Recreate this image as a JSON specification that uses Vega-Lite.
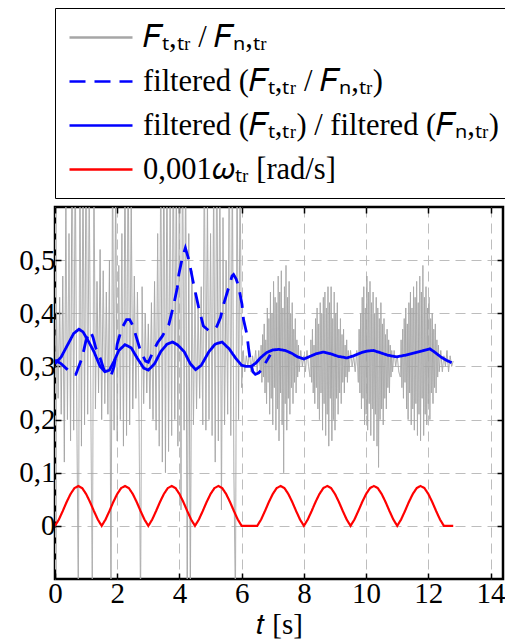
{
  "$schema": "https://vega.github.io/schema/vega-lite/v6.json",
  "width": 448,
  "height": 372,
  "autosize": {"type": "none"},
  "padding": {"left": 55, "top": 207, "right": 2, "bottom": 63},
  "background": "white",
  "config": {
    "view": {"stroke": "black", "strokeWidth": 2.5},
    "font": "Liberation Serif",
    "axis": {"labelFont": "Liberation Serif", "titleFont": "Liberation Serif"},
    "legend": {"labelFont": "Liberation Serif"}
  },
  "data": {"values": [
      {"s":"a","t":0,"v":0.31},{"s":"a","t":0.05,"v":0.4},{"s":"a","t":0.1,"v":0.24},{"s":"a","t":0.15,"v":0.43},{"s":"a","t":0.2,"v":0.21},{"s":"a","t":0.25,"v":0.47},{"s":"a","t":0.3,"v":0.12},{"s":"a","t":0.35,"v":0.62},{"s":"a","t":0.4,"v":0.2},{"s":"a","t":0.45,"v":0.55},
      {"s":"a","t":0.5,"v":0.16},{"s":"a","t":0.55,"v":0.75},{"s":"a","t":0.6,"v":0.18},{"s":"a","t":0.65,"v":0.7},{"s":"a","t":0.7,"v":0.22},{"s":"a","t":0.75,"v":-0.15},{"s":"a","t":0.8,"v":0.72},{"s":"a","t":0.85,"v":0.15},{"s":"a","t":0.9,"v":0.68},{"s":"a","t":0.95,"v":0.19},
      {"s":"a","t":1,"v":0.75},{"s":"a","t":1.05,"v":0.21},{"s":"a","t":1.1,"v":0.64},{"s":"a","t":1.15,"v":0.24},{"s":"a","t":1.2,"v":-0.15},{"s":"a","t":1.25,"v":0.7},{"s":"a","t":1.3,"v":0.22},{"s":"a","t":1.35,"v":0.46},{"s":"a","t":1.4,"v":0.25},{"s":"a","t":1.45,"v":0.52},
      {"s":"a","t":1.5,"v":0.2},{"s":"a","t":1.55,"v":0.48},{"s":"a","t":1.6,"v":0.23},{"s":"a","t":1.65,"v":0.44},{"s":"a","t":1.7,"v":0.21},{"s":"a","t":1.75,"v":0.5},{"s":"a","t":1.8,"v":-0.15},{"s":"a","t":1.85,"v":0.72},{"s":"a","t":1.9,"v":0.18},{"s":"a","t":1.95,"v":0.66},
      {"s":"a","t":2,"v":0.16},{"s":"a","t":2.05,"v":0.49},{"s":"a","t":2.1,"v":0.2},{"s":"a","t":2.15,"v":0.55},{"s":"a","t":2.2,"v":0.15},{"s":"a","t":2.25,"v":0.7},{"s":"a","t":2.3,"v":0.17},{"s":"a","t":2.35,"v":0.74},{"s":"a","t":2.4,"v":0.19},{"s":"a","t":2.45,"v":0.62},
      {"s":"a","t":2.5,"v":0.22},{"s":"a","t":2.55,"v":0.47},{"s":"a","t":2.6,"v":0.24},{"s":"a","t":2.65,"v":0.44},{"s":"a","t":2.7,"v":0.21},{"s":"a","t":2.75,"v":-0.15},{"s":"a","t":2.8,"v":0.45},{"s":"a","t":2.85,"v":0.23},{"s":"a","t":2.9,"v":0.4},{"s":"a","t":2.95,"v":0.25},
      {"s":"a","t":3,"v":0.38},{"s":"a","t":3.05,"v":0.22},{"s":"a","t":3.1,"v":0.42},{"s":"a","t":3.15,"v":0.2},{"s":"a","t":3.2,"v":0.46},{"s":"a","t":3.25,"v":0.18},{"s":"a","t":3.3,"v":0.55},{"s":"a","t":3.35,"v":0.15},{"s":"a","t":3.4,"v":0.7},{"s":"a","t":3.45,"v":0.12},
      {"s":"a","t":3.5,"v":0.75},{"s":"a","t":3.55,"v":0.1},{"s":"a","t":3.6,"v":0.72},{"s":"a","t":3.65,"v":0.14},{"s":"a","t":3.7,"v":0.68},{"s":"a","t":3.75,"v":0.17},{"s":"a","t":3.8,"v":0.75},{"s":"a","t":3.85,"v":0.2},{"s":"a","t":3.9,"v":0.66},{"s":"a","t":3.95,"v":0.15},
      {"s":"a","t":4,"v":0.72},{"s":"a","t":4.05,"v":0.03},{"s":"a","t":4.1,"v":0.74},{"s":"a","t":4.15,"v":0.18},{"s":"a","t":4.2,"v":0.7},{"s":"a","t":4.25,"v":-0.15},{"s":"a","t":4.3,"v":0.55},{"s":"a","t":4.35,"v":-0.15},{"s":"a","t":4.4,"v":0.48},{"s":"a","t":4.45,"v":0.19},
      {"s":"a","t":4.5,"v":0.44},{"s":"a","t":4.55,"v":0.22},{"s":"a","t":4.6,"v":0.41},{"s":"a","t":4.65,"v":0.24},{"s":"a","t":4.7,"v":0.45},{"s":"a","t":4.75,"v":0.19},{"s":"a","t":4.8,"v":0.7},{"s":"a","t":4.85,"v":0.18},{"s":"a","t":4.9,"v":0.62},{"s":"a","t":4.95,"v":0.2},
      {"s":"a","t":5,"v":0.55},{"s":"a","t":5.05,"v":0.17},{"s":"a","t":5.1,"v":0.66},{"s":"a","t":5.15,"v":0.12},{"s":"a","t":5.2,"v":0.74},{"s":"a","t":5.25,"v":0.16},{"s":"a","t":5.3,"v":0.71},{"s":"a","t":5.35,"v":0.03},{"s":"a","t":5.4,"v":0.58},{"s":"a","t":5.45,"v":0.19},
      {"s":"a","t":5.5,"v":0.5},{"s":"a","t":5.55,"v":0.21},{"s":"a","t":5.6,"v":0.73},{"s":"a","t":5.65,"v":0.17},{"s":"a","t":5.7,"v":0.69},{"s":"a","t":5.75,"v":0.1},{"s":"a","t":5.8,"v":-0.15},{"s":"a","t":5.85,"v":0.72},{"s":"a","t":5.9,"v":0.2},{"s":"a","t":5.95,"v":0.66},
      {"s":"a","t":6,"v":0.26},{"s":"a","t":6.05,"v":0.33},{"s":"a","t":6.1,"v":0.29},{"s":"a","t":6.15,"v":0.32},{"s":"a","t":6.2,"v":0.3},{"s":"a","t":6.25,"v":0.33},{"s":"a","t":6.3,"v":0.29},{"s":"a","t":6.35,"v":0.32},{"s":"a","t":6.4,"v":0.3},{"s":"a","t":6.45,"v":0.33},
      {"s":"a","t":6.5,"v":0.29},{"s":"a","t":6.55,"v":0.33},
      {"s":"a","t":6.6,"v":0.29},{"s":"a","t":6.625,"v":0.34},{"s":"a","t":6.65,"v":0.27},{"s":"a","t":6.675,"v":0.36},{"s":"a","t":6.7,"v":0.28},{"s":"a","t":6.725,"v":0.38},{"s":"a","t":6.75,"v":0.25},{"s":"a","t":6.775,"v":0.35},{"s":"a","t":6.8,"v":0.23},{"s":"a","t":6.825,"v":0.41},
      {"s":"a","t":6.85,"v":0.27},{"s":"a","t":6.875,"v":0.39},{"s":"a","t":6.9,"v":0.21},{"s":"a","t":6.925,"v":0.44},{"s":"a","t":6.95,"v":0.24},{"s":"a","t":6.975,"v":0.4},{"s":"a","t":7,"v":0.19},{"s":"a","t":7.025,"v":0.46},{"s":"a","t":7.05,"v":0.26},{"s":"a","t":7.075,"v":0.43},
      {"s":"a","t":7.1,"v":0.18},{"s":"a","t":7.125,"v":0.42},{"s":"a","t":7.15,"v":0.22},{"s":"a","t":7.175,"v":0.47},{"s":"a","t":7.2,"v":0.16},{"s":"a","t":7.225,"v":0.44},{"s":"a","t":7.25,"v":0.25},{"s":"a","t":7.275,"v":0.48},{"s":"a","t":7.3,"v":0.19},{"s":"a","t":7.325,"v":0.41},
      {"s":"a","t":7.35,"v":0.1},{"s":"a","t":7.375,"v":0.45},{"s":"a","t":7.4,"v":0.23},{"s":"a","t":7.425,"v":0.49},{"s":"a","t":7.45,"v":0.18},{"s":"a","t":7.475,"v":0.43},{"s":"a","t":7.5,"v":0.24},{"s":"a","t":7.525,"v":0.46},{"s":"a","t":7.55,"v":0.21},{"s":"a","t":7.575,"v":0.4},
      {"s":"a","t":7.6,"v":0.26},{"s":"a","t":7.625,"v":0.42},{"s":"a","t":7.65,"v":0.23},{"s":"a","t":7.675,"v":0.37},{"s":"a","t":7.7,"v":0.27},{"s":"a","t":7.725,"v":0.39},{"s":"a","t":7.75,"v":0.25},{"s":"a","t":7.775,"v":0.35},{"s":"a","t":7.8,"v":0.28},{"s":"a","t":7.825,"v":0.34},
      {"s":"a","t":7.85,"v":0.29},{"s":"a","t":7.9,"v":0.33},{"s":"a","t":7.95,"v":0.3},{"s":"a","t":8,"v":0.32},{"s":"a","t":8.05,"v":0.29},{"s":"a","t":8.1,"v":0.33},{"s":"a","t":8.15,"v":0.3},
      {"s":"a","t":8.2,"v":0.28},{"s":"a","t":8.225,"v":0.35},{"s":"a","t":8.25,"v":0.27},{"s":"a","t":8.275,"v":0.37},{"s":"a","t":8.3,"v":0.25},{"s":"a","t":8.325,"v":0.34},{"s":"a","t":8.35,"v":0.23},{"s":"a","t":8.375,"v":0.39},{"s":"a","t":8.4,"v":0.26},{"s":"a","t":8.425,"v":0.41},
      {"s":"a","t":8.45,"v":0.22},{"s":"a","t":8.475,"v":0.38},{"s":"a","t":8.5,"v":0.2},{"s":"a","t":8.525,"v":0.42},{"s":"a","t":8.55,"v":0.25},{"s":"a","t":8.575,"v":0.4},{"s":"a","t":8.6,"v":0.18},{"s":"a","t":8.625,"v":0.43},{"s":"a","t":8.65,"v":0.23},{"s":"a","t":8.675,"v":0.44},
      {"s":"a","t":8.7,"v":0.17},{"s":"a","t":8.725,"v":0.41},{"s":"a","t":8.75,"v":0.21},{"s":"a","t":8.775,"v":0.45},{"s":"a","t":8.8,"v":0.15},{"s":"a","t":8.825,"v":0.42},{"s":"a","t":8.85,"v":0.24},{"s":"a","t":8.875,"v":0.45},{"s":"a","t":8.9,"v":0.16},{"s":"a","t":8.925,"v":0.39},
      {"s":"a","t":8.95,"v":0.2},{"s":"a","t":8.975,"v":0.44},{"s":"a","t":9,"v":0.18},{"s":"a","t":9.025,"v":0.4},{"s":"a","t":9.05,"v":0.24},{"s":"a","t":9.075,"v":0.42},{"s":"a","t":9.1,"v":0.21},{"s":"a","t":9.125,"v":0.37},{"s":"a","t":9.15,"v":0.25},{"s":"a","t":9.175,"v":0.39},
      {"s":"a","t":9.2,"v":0.23},{"s":"a","t":9.225,"v":0.36},{"s":"a","t":9.25,"v":0.27},{"s":"a","t":9.275,"v":0.37},{"s":"a","t":9.3,"v":0.25},{"s":"a","t":9.325,"v":0.34},{"s":"a","t":9.35,"v":0.28},{"s":"a","t":9.375,"v":0.35},{"s":"a","t":9.4,"v":0.27},{"s":"a","t":9.425,"v":0.33},
      {"s":"a","t":9.45,"v":0.29},{"s":"a","t":9.5,"v":0.33},{"s":"a","t":9.55,"v":0.3},{"s":"a","t":9.6,"v":0.32},{"s":"a","t":9.65,"v":0.29},{"s":"a","t":9.7,"v":0.33},
      {"s":"a","t":9.75,"v":0.27},{"s":"a","t":9.775,"v":0.37},{"s":"a","t":9.8,"v":0.25},{"s":"a","t":9.825,"v":0.4},{"s":"a","t":9.85,"v":0.22},{"s":"a","t":9.875,"v":0.43},{"s":"a","t":9.9,"v":0.24},{"s":"a","t":9.925,"v":0.45},{"s":"a","t":9.95,"v":0.19},{"s":"a","t":9.975,"v":0.41},
      {"s":"a","t":10,"v":0.21},{"s":"a","t":10.025,"v":0.47},{"s":"a","t":10.05,"v":0.18},{"s":"a","t":10.075,"v":0.44},{"s":"a","t":10.1,"v":0.23},{"s":"a","t":10.125,"v":0.46},{"s":"a","t":10.15,"v":0.17},{"s":"a","t":10.175,"v":0.42},{"s":"a","t":10.2,"v":0.22},{"s":"a","t":10.225,"v":0.44},
      {"s":"a","t":10.25,"v":0.16},{"s":"a","t":10.275,"v":0.4},{"s":"a","t":10.3,"v":0.21},{"s":"a","t":10.325,"v":0.43},{"s":"a","t":10.35,"v":0.15},{"s":"a","t":10.375,"v":0.41},{"s":"a","t":10.4,"v":0.11},{"s":"a","t":10.425,"v":0.39},{"s":"a","t":10.45,"v":0.2},{"s":"a","t":10.475,"v":0.42},
      {"s":"a","t":10.5,"v":0.22},{"s":"a","t":10.525,"v":0.38},{"s":"a","t":10.55,"v":0.19},{"s":"a","t":10.575,"v":0.39},{"s":"a","t":10.6,"v":0.24},{"s":"a","t":10.625,"v":0.36},{"s":"a","t":10.65,"v":0.22},{"s":"a","t":10.675,"v":0.37},{"s":"a","t":10.7,"v":0.26},{"s":"a","t":10.725,"v":0.35},
      {"s":"a","t":10.75,"v":0.25},{"s":"a","t":10.775,"v":0.34},{"s":"a","t":10.8,"v":0.28},{"s":"a","t":10.825,"v":0.33},{"s":"a","t":10.85,"v":0.29},{"s":"a","t":10.9,"v":0.33},{"s":"a","t":10.95,"v":0.3},{"s":"a","t":11,"v":0.32},{"s":"a","t":11.05,"v":0.29},
      {"s":"a","t":11.1,"v":0.28},{"s":"a","t":11.125,"v":0.35},{"s":"a","t":11.15,"v":0.26},{"s":"a","t":11.175,"v":0.37},{"s":"a","t":11.2,"v":0.24},{"s":"a","t":11.225,"v":0.39},{"s":"a","t":11.25,"v":0.27},{"s":"a","t":11.275,"v":0.41},{"s":"a","t":11.3,"v":0.22},{"s":"a","t":11.325,"v":0.38},
      {"s":"a","t":11.35,"v":0.2},{"s":"a","t":11.375,"v":0.42},{"s":"a","t":11.4,"v":0.25},{"s":"a","t":11.425,"v":0.44},{"s":"a","t":11.45,"v":0.19},{"s":"a","t":11.475,"v":0.41},{"s":"a","t":11.5,"v":0.22},{"s":"a","t":11.525,"v":0.45},{"s":"a","t":11.55,"v":0.18},{"s":"a","t":11.575,"v":0.43},
      {"s":"a","t":11.6,"v":0.23},{"s":"a","t":11.625,"v":0.46},{"s":"a","t":11.65,"v":0.17},{"s":"a","t":11.675,"v":0.42},{"s":"a","t":11.7,"v":0.21},{"s":"a","t":11.725,"v":0.47},{"s":"a","t":11.75,"v":0.16},{"s":"a","t":11.775,"v":0.44},{"s":"a","t":11.8,"v":0.24},{"s":"a","t":11.825,"v":0.49},
      {"s":"a","t":11.85,"v":0.17},{"s":"a","t":11.875,"v":0.43},{"s":"a","t":11.9,"v":0.21},{"s":"a","t":11.925,"v":0.45},{"s":"a","t":11.95,"v":0.19},{"s":"a","t":11.975,"v":0.41},{"s":"a","t":12,"v":0.23},{"s":"a","t":12.025,"v":0.43},{"s":"a","t":12.05,"v":0.2},{"s":"a","t":12.075,"v":0.39},
      {"s":"a","t":12.1,"v":0.25},{"s":"a","t":12.125,"v":0.4},{"s":"a","t":12.15,"v":0.23},{"s":"a","t":12.175,"v":0.37},{"s":"a","t":12.2,"v":0.26},{"s":"a","t":12.225,"v":0.38},{"s":"a","t":12.25,"v":0.25},{"s":"a","t":12.275,"v":0.35},{"s":"a","t":12.3,"v":0.28},{"s":"a","t":12.325,"v":0.34},
      {"s":"a","t":12.35,"v":0.29},{"s":"a","t":12.4,"v":0.33},{"s":"a","t":12.45,"v":0.29},{"s":"a","t":12.5,"v":0.32},{"s":"a","t":12.55,"v":0.3},{"s":"a","t":12.6,"v":0.33},{"s":"a","t":12.65,"v":0.29},{"s":"a","t":12.7,"v":0.32},{"s":"a","t":12.75,"v":0.3},{"s":"a","t":12.8,"v":0.31},
      {"s":"d","t":0,"v":0},{"s":"d","t":0.125,"v":0.012},{"s":"d","t":0.25,"v":0.028},{"s":"d","t":0.375,"v":0.045},{"s":"d","t":0.5,"v":0.06},{"s":"d","t":0.625,"v":0.071},{"s":"d","t":0.75,"v":0.075},{"s":"d","t":0.875,"v":0.071},{"s":"d","t":1,"v":0.06},{"s":"d","t":1.125,"v":0.045},{"s":"d","t":1.25,"v":0.028},{"s":"d","t":1.375,"v":0.012},{"s":"d","t":1.5,"v":0},
      {"s":"d","t":1.625,"v":0.012},{"s":"d","t":1.75,"v":0.028},{"s":"d","t":1.875,"v":0.045},{"s":"d","t":2,"v":0.06},{"s":"d","t":2.125,"v":0.071},{"s":"d","t":2.25,"v":0.075},{"s":"d","t":2.375,"v":0.071},{"s":"d","t":2.5,"v":0.06},{"s":"d","t":2.625,"v":0.045},{"s":"d","t":2.75,"v":0.028},{"s":"d","t":2.875,"v":0.012},{"s":"d","t":3,"v":0},
      {"s":"d","t":3.125,"v":0.012},{"s":"d","t":3.25,"v":0.028},{"s":"d","t":3.375,"v":0.045},{"s":"d","t":3.5,"v":0.06},{"s":"d","t":3.625,"v":0.071},{"s":"d","t":3.75,"v":0.075},{"s":"d","t":3.875,"v":0.071},{"s":"d","t":4,"v":0.06},{"s":"d","t":4.125,"v":0.045},{"s":"d","t":4.25,"v":0.028},{"s":"d","t":4.375,"v":0.012},{"s":"d","t":4.5,"v":0},
      {"s":"d","t":4.625,"v":0.012},{"s":"d","t":4.75,"v":0.028},{"s":"d","t":4.875,"v":0.045},{"s":"d","t":5,"v":0.06},{"s":"d","t":5.125,"v":0.071},{"s":"d","t":5.25,"v":0.075},{"s":"d","t":5.375,"v":0.071},{"s":"d","t":5.5,"v":0.06},{"s":"d","t":5.625,"v":0.045},{"s":"d","t":5.75,"v":0.028},{"s":"d","t":5.875,"v":0.012},{"s":"d","t":6,"v":0},
      {"s":"d","t":6.5,"v":0},
      {"s":"d","t":6.625,"v":0.012},{"s":"d","t":6.75,"v":0.028},{"s":"d","t":6.875,"v":0.045},{"s":"d","t":7,"v":0.06},{"s":"d","t":7.125,"v":0.071},{"s":"d","t":7.25,"v":0.075},{"s":"d","t":7.375,"v":0.071},{"s":"d","t":7.5,"v":0.06},{"s":"d","t":7.625,"v":0.045},{"s":"d","t":7.75,"v":0.028},{"s":"d","t":7.875,"v":0.012},{"s":"d","t":8,"v":0},
      {"s":"d","t":8.125,"v":0.012},{"s":"d","t":8.25,"v":0.028},{"s":"d","t":8.375,"v":0.045},{"s":"d","t":8.5,"v":0.06},{"s":"d","t":8.625,"v":0.071},{"s":"d","t":8.75,"v":0.075},{"s":"d","t":8.875,"v":0.071},{"s":"d","t":9,"v":0.06},{"s":"d","t":9.125,"v":0.045},{"s":"d","t":9.25,"v":0.028},{"s":"d","t":9.375,"v":0.012},{"s":"d","t":9.5,"v":0},
      {"s":"d","t":9.625,"v":0.012},{"s":"d","t":9.75,"v":0.028},{"s":"d","t":9.875,"v":0.045},{"s":"d","t":10,"v":0.06},{"s":"d","t":10.125,"v":0.071},{"s":"d","t":10.25,"v":0.075},{"s":"d","t":10.375,"v":0.071},{"s":"d","t":10.5,"v":0.06},{"s":"d","t":10.625,"v":0.045},{"s":"d","t":10.75,"v":0.028},{"s":"d","t":10.875,"v":0.012},{"s":"d","t":11,"v":0},
      {"s":"d","t":11.125,"v":0.012},{"s":"d","t":11.25,"v":0.028},{"s":"d","t":11.375,"v":0.045},{"s":"d","t":11.5,"v":0.06},{"s":"d","t":11.625,"v":0.071},{"s":"d","t":11.75,"v":0.075},{"s":"d","t":11.875,"v":0.071},{"s":"d","t":12,"v":0.06},{"s":"d","t":12.125,"v":0.045},{"s":"d","t":12.25,"v":0.028},{"s":"d","t":12.375,"v":0.012},{"s":"d","t":12.5,"v":0},
      {"s":"d","t":12.8,"v":0},
      {"s":"b","t":0,"v":0.312},{"s":"b","t":0.2,"v":0.305},{"s":"b","t":0.4,"v":0.294},{"s":"b","t":0.55,"v":0.285},{"s":"b","t":0.67,"v":0.285},{"s":"b","t":0.87,"v":0.316},{"s":"b","t":0.99,"v":0.347},{"s":"b","t":1.08,"v":0.362},{"s":"b","t":1.14,"v":0.366},{"s":"b","t":1.22,"v":0.355},
      {"s":"b","t":1.31,"v":0.335},{"s":"b","t":1.47,"v":0.313},{"s":"b","t":1.57,"v":0.294},{"s":"b","t":1.68,"v":0.284},{"s":"b","t":1.79,"v":0.281},{"s":"b","t":1.9,"v":0.3},{"s":"b","t":2,"v":0.342},{"s":"b","t":2.15,"v":0.372},{"s":"b","t":2.3,"v":0.388},{"s":"b","t":2.4,"v":0.388},
      {"s":"b","t":2.5,"v":0.377},{"s":"b","t":2.59,"v":0.36},{"s":"b","t":2.75,"v":0.329},{"s":"b","t":2.91,"v":0.31},{"s":"b","t":3,"v":0.308},{"s":"b","t":3.17,"v":0.33},{"s":"b","t":3.3,"v":0.345},{"s":"b","t":3.45,"v":0.357},{"s":"b","t":3.66,"v":0.379},{"s":"b","t":3.82,"v":0.417},
      {"s":"b","t":3.93,"v":0.448},{"s":"b","t":3.98,"v":0.473},{"s":"b","t":4.09,"v":0.504},{"s":"b","t":4.19,"v":0.523},{"s":"b","t":4.3,"v":0.501},{"s":"b","t":4.43,"v":0.462},{"s":"b","t":4.61,"v":0.413},{"s":"b","t":4.77,"v":0.376},{"s":"b","t":4.93,"v":0.368},{"s":"b","t":5.09,"v":0.368},
      {"s":"b","t":5.2,"v":0.375},{"s":"b","t":5.32,"v":0.392},{"s":"b","t":5.42,"v":0.417},{"s":"b","t":5.58,"v":0.448},{"s":"b","t":5.69,"v":0.47},{"s":"b","t":5.74,"v":0.473},{"s":"b","t":5.82,"v":0.465},{"s":"b","t":5.9,"v":0.451},{"s":"b","t":6.01,"v":0.417},{"s":"b","t":6.06,"v":0.388},
      {"s":"b","t":6.17,"v":0.36},{"s":"b","t":6.22,"v":0.335},{"s":"b","t":6.28,"v":0.31},{"s":"b","t":6.36,"v":0.29},{"s":"b","t":6.44,"v":0.285},{"s":"b","t":6.55,"v":0.288},{"s":"b","t":6.65,"v":0.294},{"s":"b","t":6.75,"v":0.305},{"s":"b","t":6.92,"v":0.322},
      {"s":"c","t":0,"v":0.305},{"s":"c","t":0.2,"v":0.318},{"s":"c","t":0.4,"v":0.34},{"s":"c","t":0.6,"v":0.362},{"s":"c","t":0.77,"v":0.37},{"s":"c","t":0.9,"v":0.365},{"s":"c","t":1.05,"v":0.35},{"s":"c","t":1.25,"v":0.328},{"s":"c","t":1.45,"v":0.3},{"s":"c","t":1.6,"v":0.29},
      {"s":"c","t":1.75,"v":0.293},{"s":"c","t":1.9,"v":0.31},{"s":"c","t":2.05,"v":0.33},{"s":"c","t":2.25,"v":0.341},{"s":"c","t":2.45,"v":0.335},{"s":"c","t":2.65,"v":0.315},{"s":"c","t":2.85,"v":0.297},{"s":"c","t":3,"v":0.293},{"s":"c","t":3.2,"v":0.305},{"s":"c","t":3.4,"v":0.328},
      {"s":"c","t":3.6,"v":0.342},{"s":"c","t":3.78,"v":0.346},{"s":"c","t":3.95,"v":0.34},{"s":"c","t":4.15,"v":0.328},{"s":"c","t":4.35,"v":0.305},{"s":"c","t":4.52,"v":0.294},{"s":"c","t":4.7,"v":0.302},{"s":"c","t":4.95,"v":0.328},{"s":"c","t":5.15,"v":0.342},{"s":"c","t":5.37,"v":0.346},
      {"s":"c","t":5.6,"v":0.333},{"s":"c","t":5.8,"v":0.316},{"s":"c","t":6,"v":0.302},{"s":"c","t":6.15,"v":0.3},{"s":"c","t":6.3,"v":0.3},{"s":"c","t":6.45,"v":0.306},{"s":"c","t":6.6,"v":0.316},{"s":"c","t":6.8,"v":0.326},{"s":"c","t":7,"v":0.331},{"s":"c","t":7.19,"v":0.332},
      {"s":"c","t":7.4,"v":0.33},{"s":"c","t":7.6,"v":0.325},{"s":"c","t":7.8,"v":0.318},{"s":"c","t":8,"v":0.314},{"s":"c","t":8.2,"v":0.319},{"s":"c","t":8.4,"v":0.324},{"s":"c","t":8.63,"v":0.327},{"s":"c","t":8.85,"v":0.324},{"s":"c","t":9.1,"v":0.319},{"s":"c","t":9.38,"v":0.316},
      {"s":"c","t":9.6,"v":0.32},{"s":"c","t":9.85,"v":0.326},{"s":"c","t":10.05,"v":0.329},{"s":"c","t":10.23,"v":0.33},{"s":"c","t":10.45,"v":0.326},{"s":"c","t":10.7,"v":0.321},{"s":"c","t":10.98,"v":0.318},{"s":"c","t":11.25,"v":0.321},{"s":"c","t":11.52,"v":0.325},{"s":"c","t":11.8,"v":0.329},
      {"s":"c","t":12.05,"v":0.333},{"s":"c","t":12.2,"v":0.327},{"s":"c","t":12.4,"v":0.318},{"s":"c","t":12.6,"v":0.311},{"s":"c","t":12.75,"v":0.307}
  ]},
  "encoding": {
    "x": {
      "field": "t", "type": "quantitative",
      "scale": {"domain": [0, 14.4], "nice": false, "zero": false},
      "axis": {
        "values": [0, 2, 4, 6, 8, 10, 12, 14],
        "grid": true, "gridDash": [10, 6], "gridColor": "#bdbdbd", "gridWidth": 1,
        "domain": false, "ticks": true, "tickSize": -6, "tickColor": "black", "tickWidth": 1.5,
        "labelFont": "Liberation Serif", "labelFontSize": 29, "labelColor": "black", "labelPadding": 6,
        "labelFlush": false, "labelOverlap": false,
        "title": "𝑡 [s]", "titleFont": "Liberation Serif", "titleFontSize": 29, "titleFontWeight": "normal", "titleColor": "black", "titlePadding": 2
      }
    },
    "y": {
      "field": "v", "type": "quantitative",
      "scale": {"domain": [-0.1, 0.6], "nice": false, "zero": false},
      "axis": {
        "values": [0, 0.1, 0.2, 0.3, 0.4, 0.5],
        "labelExpr": "datum.value == 0 ? '0' : replace(format(datum.value, '.1f'), '.', ',')",
        "grid": true, "gridDash": [10, 6], "gridColor": "#bdbdbd", "gridWidth": 1,
        "domain": false, "ticks": true, "tickSize": -6, "tickColor": "black", "tickWidth": 1.5,
        "labelFont": "Liberation Serif", "labelFontSize": 29, "labelColor": "black", "labelPadding": 6,
        "labelFlush": false, "labelOverlap": false,
        "title": null
      }
    },
    "color": {
      "field": "s", "type": "nominal",
      "scale": {"domain": ["a", "b", "c", "d"], "range": ["#a6a6a6", "#0000ff", "#0000ff", "#ff0000"]},
      "legend": {
        "orient": "top", "direction": "vertical", "title": null,
        "offset": 8, "padding": 13, "strokeColor": "black", "fillColor": "white",
        "symbolType": "M-1,0H3.2", "symbolSize": 900, "symbolStrokeWidth": 2.5,
        "labelFont": "Liberation Serif", "labelFontSize": 30.5, "labelColor": "black", "labelLimit": 600, "labelOffset": 42,
        "rowPadding": 12,
        "labelExpr": "datum.label == 'a' ? '𝐹ₜ,ₜᵣ / 𝐹ₙ,ₜᵣ' : datum.label == 'b' ? 'filtered (𝐹ₜ,ₜᵣ / 𝐹ₙ,ₜᵣ)' : datum.label == 'c' ? 'filtered (𝐹ₜ,ₜᵣ) / filtered (𝐹ₙ,ₜᵣ)' : '0,001𝜔ₜᵣ [rad/s]'"
      }
    },
    "strokeDash": {
      "field": "s", "type": "nominal",
      "scale": {"domain": ["a", "b", "c", "d"], "range": [[1, 0], [16, 9], [1, 0], [1, 0]]},
      "legend": {
        "orient": "top", "direction": "vertical", "title": null,
        "offset": 8, "padding": 13, "strokeColor": "black", "fillColor": "white",
        "symbolType": "M-1,0H3.2", "symbolSize": 900, "symbolStrokeWidth": 2.5,
        "labelFont": "Liberation Serif", "labelFontSize": 30.5, "labelColor": "black", "labelLimit": 600, "labelOffset": 42,
        "rowPadding": 12,
        "labelExpr": "datum.label == 'a' ? '𝐹ₜ,ₜᵣ / 𝐹ₙ,ₜᵣ' : datum.label == 'b' ? 'filtered (𝐹ₜ,ₜᵣ / 𝐹ₙ,ₜᵣ)' : datum.label == 'c' ? 'filtered (𝐹ₜ,ₜᵣ) / filtered (𝐹ₙ,ₜᵣ)' : '0,001𝜔ₜᵣ [rad/s]'"
      }
    }
  },
  "resolve": {"axis": {"x": "independent", "y": "independent"}},
  "layer": [
    {"transform": [{"filter": "datum.s == 'a'"}], "mark": {"type": "line", "strokeWidth": 1, "clip": true}},
    {"transform": [{"filter": "datum.s == 'd'"}], "mark": {"type": "line", "strokeWidth": 2.2, "clip": true},
     "encoding": {"x": {"field": "t", "type": "quantitative", "axis": null}, "y": {"field": "v", "type": "quantitative", "axis": null}}},
    {"transform": [{"filter": "datum.s == 'b'"}], "mark": {"type": "line", "strokeWidth": 2.8, "clip": true},
     "encoding": {"x": {"field": "t", "type": "quantitative", "axis": null}, "y": {"field": "v", "type": "quantitative", "axis": null}}},
    {"transform": [{"filter": "datum.s == 'c'"}], "mark": {"type": "line", "strokeWidth": 2.8, "clip": true},
     "encoding": {
       "x": {"field": "t", "type": "quantitative",
         "axis": {"orient": "top", "values": [0, 2, 4, 6, 8, 10, 12, 14], "labels": false, "grid": false, "domain": false, "ticks": true, "tickSize": -6, "tickColor": "black", "tickWidth": 1.5, "title": null}},
       "y": {"field": "v", "type": "quantitative",
         "axis": {"orient": "right", "values": [0, 0.1, 0.2, 0.3, 0.4, 0.5], "labels": false, "grid": false, "domain": false, "ticks": true, "tickSize": -6, "tickColor": "black", "tickWidth": 1.5, "title": null}}
     }}
  ]
}
